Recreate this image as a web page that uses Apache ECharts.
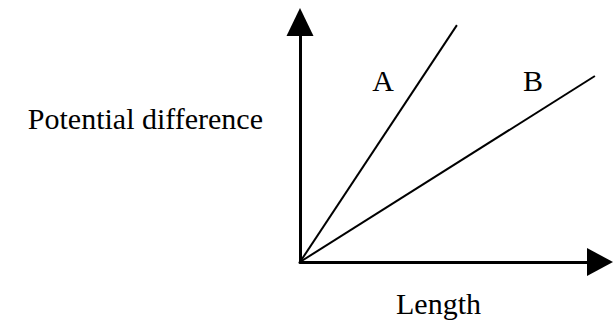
<!DOCTYPE html>
<html>
    <head>
        <meta charset="utf-8">
        <title>Potential difference vs length</title>
        <script src="https://cdn.jsdelivr.net/npm/echarts@6/dist/echarts.min.js"></script>
        <style>
            html, body { margin: 0; padding: 0; background: #fff; }
            #chart1 { width: 613px; height: 320px; }
        </style>
    </head>
    <body>
        <div id="chart1"></div>
        <script type="text/javascript">
            // data (arbitrary units, origin at 0,0)
            var lineA = [[0, 0], [5.23, 9.87]];
            var lineB = [[0, 0], [9.83, 7.75]];
            var lineNames = ['A', 'B'];
            var xName = 'Length';
            var yName = 'Potential difference';

            var font = "'Liberation Serif', 'Times New Roman', serif";

            var myChart = echarts.init(document.getElementById('chart1'), null, { renderer: 'svg' });

            var option = {
                animation: false,
                grid: { left: 300, right: 13, top: 22, bottom: 58 },
                xAxis: {
                    type: 'value', min: 0, max: 10,
                    axisLine: {
                        onZero: false,
                        lineStyle: { color: '#000', width: 3 },
                        symbol: ['none', 'triangle'],
                        symbolSize: [28, 26]
                    },
                    axisTick: { show: false },
                    axisLabel: { show: false },
                    splitLine: { show: false }
                },
                yAxis: {
                    type: 'value', min: 0, max: 10,
                    axisLine: {
                        show: true,
                        onZero: false,
                        lineStyle: { color: '#000', width: 3 },
                        symbol: ['none', 'triangle'],
                        symbolSize: [27, 28]
                    },
                    axisTick: { show: false },
                    axisLabel: { show: false },
                    splitLine: { show: false }
                },
                series: [
                    {
                        name: lineNames[0], type: 'line', data: lineA,
                        symbol: 'none', silent: true,
                        lineStyle: { color: '#000', width: 2 }
                    },
                    {
                        name: lineNames[1], type: 'line', data: lineB,
                        symbol: 'none', silent: true,
                        lineStyle: { color: '#000', width: 2 }
                    }
                ],
                graphic: [
                    { type: 'text', x: 263, y: 118, style: { text: yName, font: '30px ' + font, fill: '#000', align: 'right', verticalAlign: 'middle' } },
                    { type: 'text', x: 396, y: 303, style: { text: xName, font: '30px ' + font, fill: '#000', align: 'left', verticalAlign: 'middle' } },
                    { type: 'text', x: 383, y: 80, style: { text: lineNames[0], font: '30px ' + font, fill: '#000', align: 'center', verticalAlign: 'middle' } },
                    { type: 'text', x: 533, y: 80, style: { text: lineNames[1], font: '30px ' + font, fill: '#000', align: 'center', verticalAlign: 'middle' } }
                ]
            };
            myChart.setOption(option);
        </script>
    </body>
</html>
